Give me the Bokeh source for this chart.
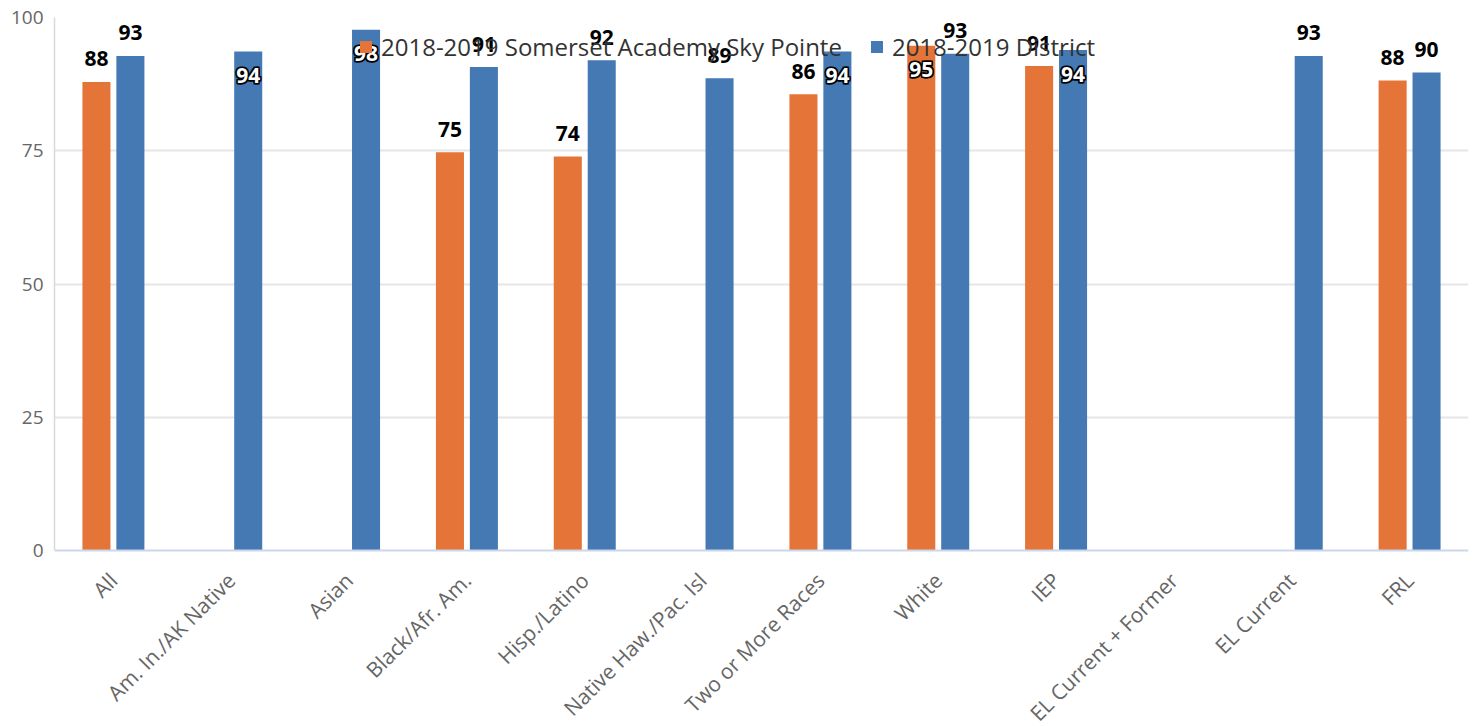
import math
from bokeh.plotting import figure
from bokeh.models import (ColumnDataSource, FactorRange, Range1d, FixedTicker,
                          Legend, LegendItem)
from bokeh.transform import dodge
from bokeh.core.properties import value
from bokeh.embed import file_html
from bokeh.resources import INLINE

# ---------------- data ----------------
categories = ["All", "Am. In./AK Native", "Asian", "Black/Afr. Am.", "Hisp./Latino",
              "Native Haw./Pac. Isl", "Two or More Races", "White", "IEP",
              "EL Current + Former", "EL Current", "FRL"]
school = [87.9, None, None, 74.7, 73.9, None, 85.6, 94.7, 90.9, None, None, 88.2]
district = [92.8, 93.6, 97.7, 90.7, 92.0, 88.6, 93.6, 93.2, 93.9, None, 92.8, 89.7]
series_names = ["2018-2019 Somerset Academy Sky Pointe", "2018-2019 District"]
y_ticks = [0, 25, 50, 75, 100]

# ---------------- style ----------------
colors = ["#E57438", "#4579B3"]
offsets = [-0.144, 0.144]
BAR_W = 0.238
INSIDE_FROM = 93.4   # labels that would overflow the top are drawn inside the bar
FONT = "Open Sans"
Y_LOW = -33.02       # room under the zero line for the rotated category labels

p = figure(x_range=FactorRange(factors=categories), y_range=Range1d(Y_LOW, 100),
           width=1475, height=726, output_backend="svg", toolbar_location=None,
           min_border_left=54, min_border_right=7, min_border_top=17, min_border_bottom=0,
           outline_line_color=None, background_fill_color="white",
           border_fill_color="white")

bar_renderers = []
for vals, off, col in zip([school, district], offsets, colors):
    cats = [c for c, v in zip(categories, vals) if v is not None]
    tops = [v for v in vals if v is not None]
    labels = [str(int(round(v))) for v in tops]
    src = ColumnDataSource(dict(cat=cats, val=tops, label=labels))
    r = p.vbar(x=dodge("cat", off, range=p.x_range), top="val", bottom=0, width=BAR_W,
               source=src, fill_color=col, line_color=None)
    bar_renderers.append(r)

    above = [i for i, v in enumerate(tops) if v < INSIDE_FROM]
    inside = [i for i, v in enumerate(tops) if v >= INSIDE_FROM]
    src_a = ColumnDataSource(dict(cat=[cats[i] for i in above], val=[tops[i] for i in above],
                                  label=[labels[i] for i in above]))
    src_i = ColumnDataSource(dict(cat=[cats[i] for i in inside], val=[tops[i] for i in inside],
                                  label=[labels[i] for i in inside]))
    p.text(x=dodge("cat", off, range=p.x_range), y="val", text="label", source=src_a,
           text_font=value(FONT), text_font_style="bold", text_font_size="21px",
           text_color="black", text_align="center", text_baseline="middle", y_offset=-23)
    # outlined labels inside the bar: black halo, then white text
    for dx, dy in [(-1, -1), (1, -1), (-1, 1), (1, 1)]:
        p.text(x=dodge("cat", off, range=p.x_range), y="val", text="label", source=src_i,
               text_font=value(FONT), text_font_style="bold", text_font_size="21px",
               text_color="black", text_outline_color="black",
               text_align="center", text_baseline="middle", x_offset=dx, y_offset=24 + dy)
    p.text(x=dodge("cat", off, range=p.x_range), y="val", text="label", source=src_i,
           text_font=value(FONT), text_font_style="bold", text_font_size="21px",
           text_color="white",
           text_align="center", text_baseline="middle", y_offset=24)

# y axis
p.yaxis.ticker = FixedTicker(ticks=y_ticks)
p.yaxis.bounds = (0, 100)
p.yaxis.major_label_text_font = FONT
p.yaxis.major_label_text_font_size = "19px"
p.yaxis.major_label_text_color = "#666666"
p.yaxis.major_tick_line_color = None
p.yaxis.minor_tick_line_color = None
p.yaxis.major_tick_out = 0
p.yaxis.major_label_standoff = 11
p.yaxis.axis_line_color = "#d9d9d9"
p.yaxis.axis_line_width = 1.5

# x axis sits on the zero line
p.xaxis.fixed_location = 0
p.xaxis.major_label_orientation = math.pi / 4
p.xaxis.major_label_text_font = FONT
p.xaxis.major_label_text_font_size = "21px"
p.xaxis.major_label_text_color = "#666666"
p.xaxis.major_label_standoff = 26
p.xaxis.major_tick_line_color = None
p.xaxis.minor_tick_line_color = None
p.xaxis.major_tick_out = 0
p.xaxis.axis_line_color = "#ccd6eb"
p.xaxis.axis_line_width = 2

p.xgrid.grid_line_color = None
p.ygrid.ticker = FixedTicker(ticks=y_ticks[1:])
p.ygrid.grid_line_color = "#e6e6e6"
p.ygrid.grid_line_width = 2

legend = Legend(items=[LegendItem(label=n, renderers=[r]) for n, r in zip(series_names, bar_renderers)],
                orientation="horizontal", location=(304, 663), padding=0, margin=0,
                spacing=27, label_standoff=8, glyph_width=15, glyph_height=15,
                label_text_font=FONT, label_text_font_size="24px",
                label_text_color="#333333", border_line_color=None,
                background_fill_alpha=0)
p.add_layout(legend)

open("out.html", "w").write(file_html(p, INLINE))
